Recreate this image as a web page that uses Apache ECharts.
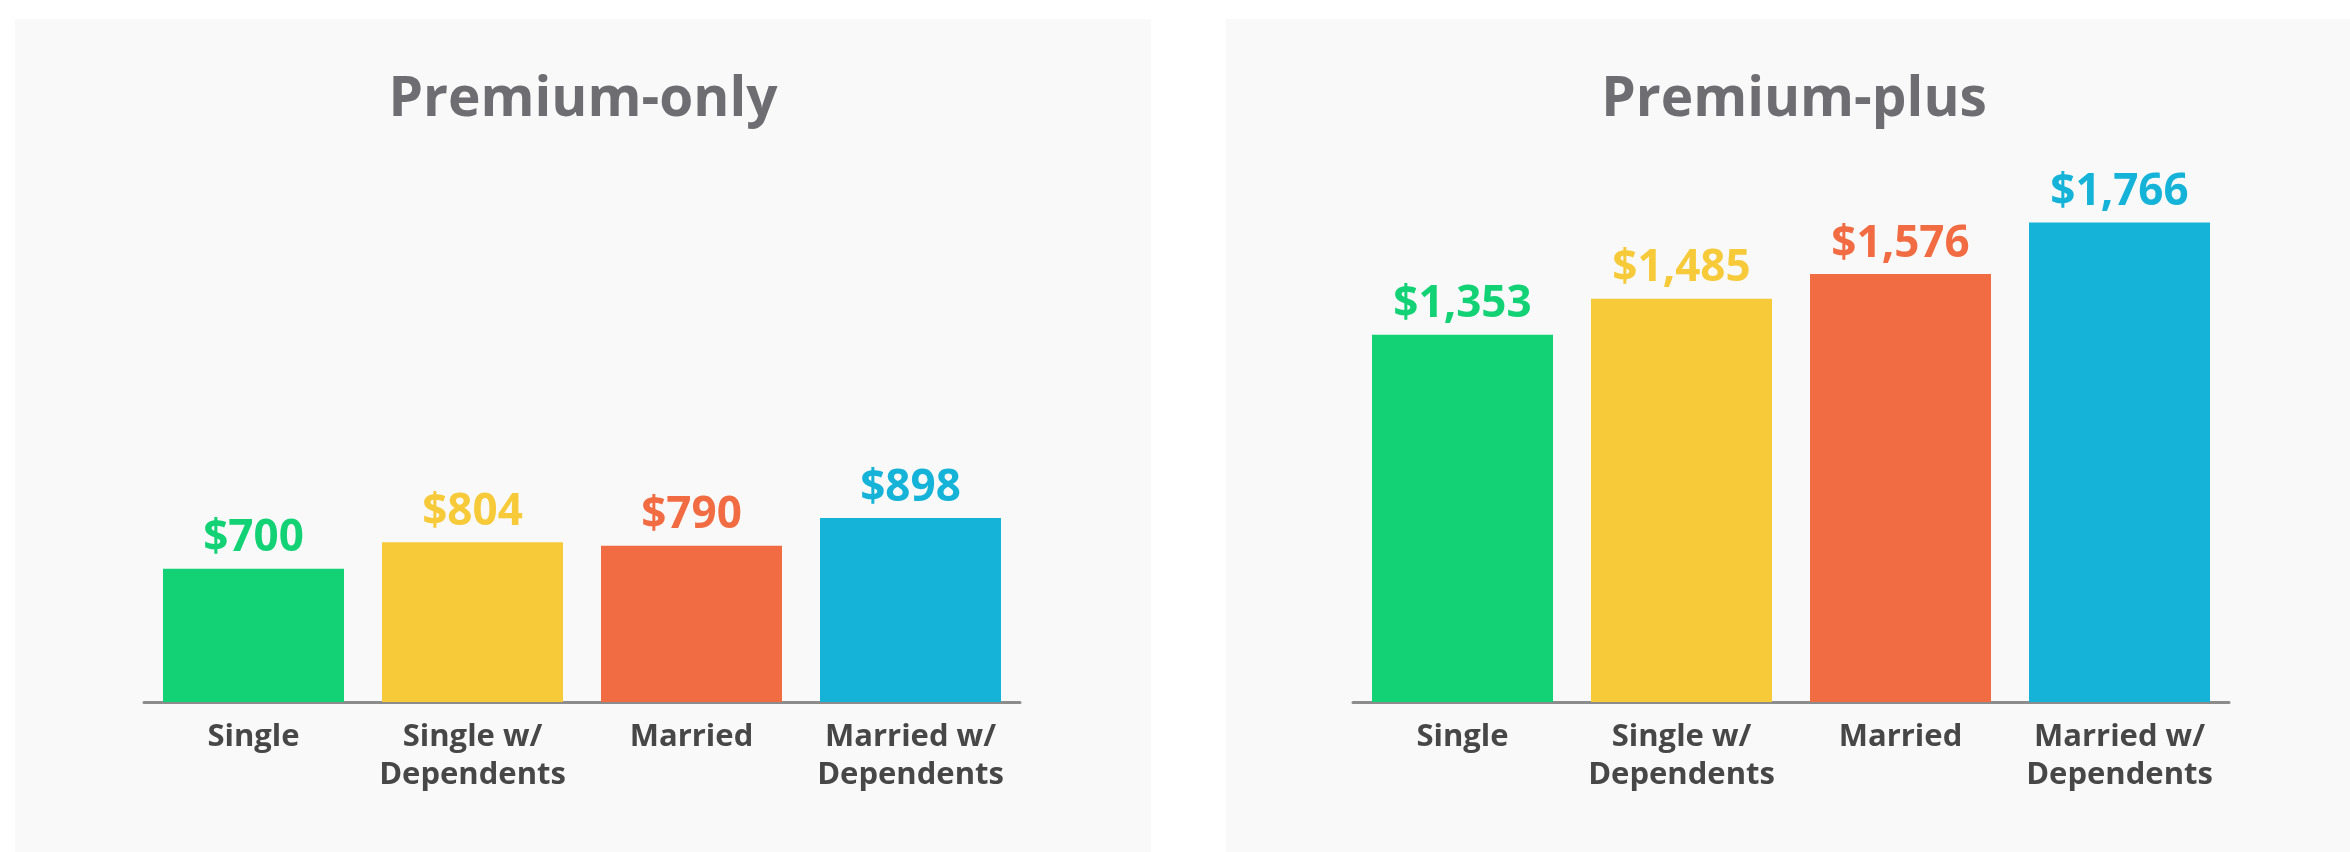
<!DOCTYPE html>
<html>
<head>
<meta charset="utf-8">
<script src="https://cdn.jsdelivr.net/npm/echarts@6/dist/echarts.min.js"></script>
<style>
  html, body { margin: 0; padding: 0; background: #ffffff; }
  #chart { width: 2350px; height: 852px; }
</style>
</head>
<body>
<div id="chart"></div>
<script>
const categories = ['Single', 'Single w/\nDependents', 'Married', 'Married w/\nDependents'];
const premiumOnly = [700, 804, 790, 898];
const premiumPlus = [1353, 1485, 1576, 1766];
const barColors = ['#13D175', '#F7CA3A', '#F26C43', '#14B3D7'];
const titles = ['Premium-only', 'Premium-plus'];

const FONT = '"Open Sans", Lato, sans-serif';

function fmt(v) { return '$' + v.toLocaleString('en-US'); }
function toData(vals) {
  return vals.map((v, i) => ({
    value: v,
    itemStyle: { color: barColors[i] },
    label: { color: barColors[i] }
  }));
}

const chart = echarts.init(document.getElementById('chart'), null, { renderer: 'canvas' });

const xAxisBase = {
  type: 'category',
  data: categories,
  axisLine: { show: true, lineStyle: { color: '#8c8c8c', width: 3 } },
  axisTick: { show: false },
  axisLabel: {
    color: '#474747', fontFamily: FONT, fontWeight: 'bold', fontSize: 31,
    lineHeight: 38, margin: 16, interval: 0
  }
};

const barSeries = (vals, idx) => ({
  type: 'bar',
  xAxisIndex: idx, yAxisIndex: idx,
  data: toData(vals),
  barWidth: 181,
  label: {
    show: true, position: 'top', distance: 8,
    fontFamily: FONT, fontWeight: 'bold', fontSize: 44,
    formatter: p => fmt(p.value)
  }
});

chart.setOption({
  animation: false,
  backgroundColor: '#ffffff',
  graphic: [
    { type: 'rect', z: -10, shape: { x: 15, y: 19, width: 1136, height: 833 }, style: { fill: '#f9f9f9' } },
    { type: 'rect', z: -10, shape: { x: 1226, y: 19, width: 1124, height: 833 }, style: { fill: '#f9f9f9' } }
  ],
  title: [
    { text: titles[0], left: 583, top: 67, textAlign: 'center', padding: 0,
      textStyle: { color: '#6e6e72', fontFamily: FONT, fontWeight: 'bold', fontSize: 55, lineHeight: 66 } },
    { text: titles[1], left: 1794, top: 67, textAlign: 'center', padding: 0,
      textStyle: { color: '#6e6e72', fontFamily: FONT, fontWeight: 'bold', fontSize: 55, lineHeight: 66 } }
  ],
  grid: [
    { left: 144, width: 876, top: 159, height: 543 },
    { left: 1353, width: 876, top: 159, height: 543 }
  ],
  xAxis: [
    Object.assign({ gridIndex: 0 }, xAxisBase),
    Object.assign({ gridIndex: 1 }, xAxisBase)
  ],
  yAxis: [
    { type: 'value', gridIndex: 0, min: 180, max: 2300, show: false },
    { type: 'value', gridIndex: 1, min: 0, max: 2000, show: false }
  ],
  series: [barSeries(premiumOnly, 0), barSeries(premiumPlus, 1)]
});
</script>
</body>
</html>
